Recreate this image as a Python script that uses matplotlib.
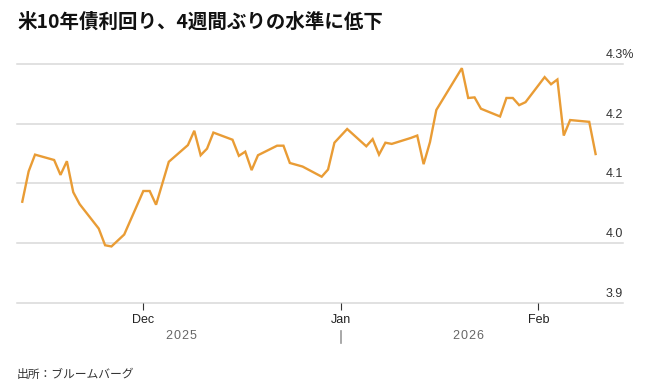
# ------------------------------------------------------------
# 米10年債利回り (Bloomberg風ラインチャート)
# ------------------------------------------------------------
import pandas as pd
import matplotlib
matplotlib.use("Agg")
import matplotlib.pyplot as plt
import matplotlib.dates as mdates
from matplotlib.transforms import blended_transform_factory, offset_copy
from matplotlib.lines import Line2D

# ------------------------------------------------------------
# 1. DATOS
# ------------------------------------------------------------
dates = [
    "2025-11-12", "2025-11-13", "2025-11-14", "2025-11-17", "2025-11-18",
    "2025-11-19", "2025-11-20", "2025-11-21", "2025-11-24", "2025-11-25",
    "2025-11-26", "2025-11-28",
    "2025-12-01", "2025-12-02", "2025-12-03", "2025-12-04", "2025-12-05",
    "2025-12-08", "2025-12-09", "2025-12-10", "2025-12-11", "2025-12-12",
    "2025-12-15", "2025-12-16", "2025-12-17", "2025-12-18", "2025-12-19",
    "2025-12-22", "2025-12-23", "2025-12-24", "2025-12-26", "2025-12-29",
    "2025-12-30", "2025-12-31",
    "2026-01-02", "2026-01-05", "2026-01-06", "2026-01-07", "2026-01-08",
    "2026-01-09", "2026-01-12", "2026-01-13", "2026-01-14", "2026-01-15",
    "2026-01-16", "2026-01-20", "2026-01-21", "2026-01-22", "2026-01-23",
    "2026-01-26", "2026-01-27", "2026-01-28", "2026-01-29", "2026-01-30",
    "2026-02-02", "2026-02-03", "2026-02-04", "2026-02-05", "2026-02-06",
    "2026-02-09", "2026-02-10",
]

yields = [
    4.069, 4.120, 4.148, 4.139, 4.114, 4.137, 4.085, 4.065, 4.024, 3.996,
    3.994, 4.014,
    4.087, 4.087, 4.064, 4.100, 4.136, 4.164, 4.188, 4.147, 4.158, 4.185,
    4.173, 4.146, 4.153, 4.122, 4.147, 4.163, 4.163, 4.134, 4.128, 4.111,
    4.123, 4.168,
    4.191, 4.162, 4.174, 4.148, 4.168, 4.166, 4.176, 4.180, 4.132, 4.169,
    4.223, 4.293, 4.243, 4.244, 4.225, 4.212, 4.243, 4.243, 4.231, 4.236,
    4.278, 4.266, 4.274, 4.180, 4.206, 4.203, 4.149,
]

y_ticks = [3.9, 4.0, 4.1, 4.2, 4.3]
month_ticks = ["2025-12-01", "2026-01-01", "2026-02-01"]
month_labels = ["Dec", "Jan", "Feb"]
years = ["2025", "2026"]

title = "米10年債利回り、4週間ぶりの水準に低下"
source = "出所：ブルームバーグ"

# ------------------------------------------------------------
# 2. ESTILO
# ------------------------------------------------------------
cjk = ["Noto Sans CJK JP", "DejaVu Sans"]
latin = ["Liberation Sans", "DejaVu Sans"]
line_color = "#e99c35"
grid_color = "#d9d9d9"
text_color = "#333333"

x = pd.to_datetime(dates)
ticks = pd.to_datetime(month_ticks)
year_split = pd.Timestamp("2026-01-01")

fig = plt.figure(figsize=(6.51, 3.91), dpi=100)
ax = fig.add_axes([17 / 651, (391 - 302.5) / 391, 606 / 651, 238.5 / 391])

# ------------------------------------------------------------
# 3. LINEA
# ------------------------------------------------------------
ax.plot(x, yields, color=line_color, linewidth=1.7, solid_joinstyle="miter", zorder=3)

ax.set_ylim(3.9, 4.3)
ax.set_xlim(ticks[0] - pd.Timedelta(days=19.83), ticks[0] + pd.Timedelta(days=75.3))

for t in y_ticks:
    ax.axhline(t, color=grid_color, linewidth=1.1, zorder=1, clip_on=False)

for s in ax.spines.values():
    s.set_visible(False)

# etiquetas eje Y (a la derecha, encima de la linea); la de arriba lleva "%"
ax.set_yticks([])
ytrans = blended_transform_factory(ax.transAxes, ax.transData)
for t in y_ticks[:-1]:
    ax.text(1.0, t + 0.01, f"{t:.1f}", transform=ytrans,
            ha="right", va="baseline", fontsize=9, color=text_color, family=latin)

renderer = fig.canvas.get_renderer()
probe = ax.text(0, 0, f"{y_ticks[-1]:.1f}", fontsize=9, family=latin)
num_w = probe.get_window_extent(renderer).width
probe.remove()
ax.text(1.0, y_ticks[-1] + 0.01, f"{y_ticks[-1]:.1f}%",
        transform=offset_copy(ytrans, fig=fig, x=-num_w, units="dots"),
        ha="left", va="baseline", fontsize=9, color=text_color, family=latin)

# eje X
ax.set_xticks(ticks)
ax.set_xticklabels(month_labels, fontsize=9, color="#222222", family=latin)
ax.tick_params(axis="x", length=5, width=0.8, color="#333333", pad=3.5)

# años
trans = blended_transform_factory(ax.transData, fig.transFigure)
year_x = [x[0] + (year_split - x[0]) / 2, year_split + (x[-1] - year_split) / 2]
for yx, label in zip(year_x, years):
    ax.text(yx, 1 - 336 / 391, "\u200a".join(label), transform=trans, ha="center", va="center",
            fontsize=9, color="#666666", family=latin)
fig.add_artist(Line2D([mdates.date2num(year_split)] * 2, [1 - 331 / 391, 1 - 342.5 / 391],
                      transform=trans, color="#999999", linewidth=1.2))

# ------------------------------------------------------------
# 4. TITULO Y FUENTE
# ------------------------------------------------------------
fig.text(17 / 651, 1 - 22 / 391, title, fontsize=14, fontweight="bold", va="center",
         color="#111111", family=cjk)
fig.text(17 / 651, 1 - 374 / 391, source, fontsize=8.5, va="center", color=text_color, family=cjk)

fig.savefig("out.png", dpi=100)
